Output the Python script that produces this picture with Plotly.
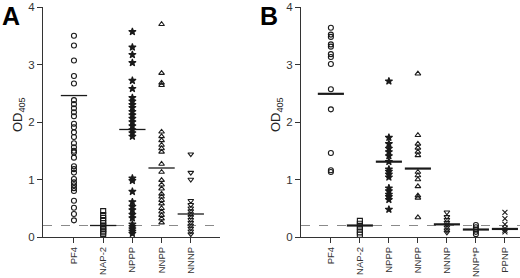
import plotly.graph_objects as go

# ---------------- data ----------------
cats_a = ["PF4", "NAP-2", "NPPP", "NNPP", "NNNP"]
cats_b = ["PF4", "NAP-2", "NPPP", "NNPP", "NNNP", "NNP*P", "PPNP"]

a_pf4 = [3.50, 3.33, 3.07, 2.80, 2.67, 2.38, 2.31, 2.24, 2.17, 2.10, 1.97, 1.91, 1.82,
         1.74, 1.63, 1.56, 1.50, 1.47, 1.38, 1.23, 1.18, 1.12, 1.01, 0.95, 0.90, 0.85,
         0.80, 0.63, 0.51, 0.40, 0.29]
a_nap2 = [0.45, 0.38, 0.33, 0.28, 0.24, 0.20, 0.17, 0.14, 0.11, 0.08, 0.05]
a_nppp = [3.57, 3.30, 3.17, 3.03, 2.72, 2.58, 2.42, 2.36, 2.30, 2.25, 2.18, 2.12, 2.06,
          2.00, 1.93, 1.86, 1.81, 1.75, 1.02, 0.98, 0.79, 0.61, 0.53, 0.47, 0.39, 0.33,
          0.22, 0.18, 0.14, 0.10, 0.06]
a_nnpp = [3.70, 2.85, 2.68, 2.64, 1.83, 1.75, 1.68, 1.60, 1.54, 1.48, 1.27, 1.13, 0.99,
          0.91, 0.84, 0.75, 0.70, 0.64, 0.58, 0.50, 0.44, 0.38, 0.32, 0.25]
a_nnnp = [1.44, 1.12, 1.00, 0.63, 0.56, 0.50, 0.45, 0.40, 0.35, 0.30, 0.25, 0.20, 0.15,
          0.10, 0.05]
a_means = [2.46, 0.20, 1.87, 1.20, 0.40]

b_pf4 = [3.64, 3.52, 3.48, 3.35, 3.31, 3.18, 3.13, 3.01, 2.57, 2.22, 1.46, 1.16, 1.13]
b_nap2 = [0.28, 0.23, 0.18, 0.13, 0.08, 0.04]
b_nppp = [2.71, 1.73, 1.62, 1.54, 1.48, 1.41, 1.31, 1.18, 1.14, 1.09, 1.04, 0.85, 0.80,
          0.74, 0.70, 0.65, 0.48]
b_nnpp = [2.84, 1.77, 1.62, 1.55, 1.48, 1.42, 1.13, 1.07, 1.00, 0.88, 0.72, 0.68, 0.34]
b_nnnp = [0.43, 0.35, 0.30, 0.25, 0.21, 0.17, 0.12, 0.08]
b_nnpsp = [0.21, 0.17, 0.13, 0.09, 0.05]
b_ppnp = [0.43, 0.32, 0.22, 0.15, 0.12, 0.09]
b_means = [2.49, 0.20, 1.31, 1.19, 0.22, 0.13, 0.14]

cutoff = 0.2
y_ticks = [0, 1, 2, 3, 4]

# ---------------- styling ----------------
symbols = {"PF4": "circle-open", "NAP-2": "square-open", "NPPP": "star",
           "NNPP": "triangle-up-open", "NNNP": "triangle-down-open",
           "NNP*P": "circle-open", "PPNP": "x-thin-open"}
sizes = {"PF4": 5, "NAP-2": 5, "NPPP": 5.5, "NNPP": 5, "NNNP": 5, "NNP*P": 5, "PPNP": 5}
ink = "#1a1a1a"
FONT = "Liberation Sans, Arial, sans-serif"

fig = go.Figure()

def add_panel(cats, series, means, xa, ya, mean_w):
    for i, (c, vals) in enumerate(zip(cats, series)):
        fig.add_trace(go.Scatter(
            x=[i] * len(vals), y=vals, mode="markers", xaxis=xa, yaxis=ya,
            marker=dict(symbol=symbols[c], size=sizes[c], color=ink,
                        line=dict(color=ink, width=1.1)),
            cliponaxis=False, showlegend=False, hoverinfo="y"))
    mx, my = [], []
    for i, m in enumerate(means):
        mx += [i - 0.45, i + 0.45, None]
        my += [m, m, None]
    fig.add_trace(go.Scatter(x=mx, y=my, mode="lines", xaxis=xa, yaxis=ya,
                             line=dict(color=ink, width=mean_w),
                             showlegend=False, hoverinfo="skip", cliponaxis=False))

add_panel(cats_a, [a_pf4, a_nap2, a_nppp, a_nnpp, a_nnnp], a_means, "x", "y", 1.3)
add_panel(cats_b, [b_pf4, b_nap2, b_nppp, b_nnpp, b_nnnp, b_nnpsp, b_ppnp], b_means,
          "x2", "y2", 2.2)

for xr, yr in (("x", "y"), ("x2", "y2")):
    fig.add_shape(type="line", xref=xr + " domain", yref=yr, x0=0, x1=1,
                  y0=cutoff, y1=cutoff, line=dict(color="#8a8a8a", width=1.2, dash="dash"),
                  layer="below")

axis_common = dict(showgrid=False, zeroline=False, showline=True, linecolor="#333",
                   linewidth=1.2, ticks="outside", ticklen=5, tickcolor="#333",
                   automargin=False, ticklabeloverflow="allow")

fig.update_layout(
    width=520, height=278, margin=dict(l=0, r=0, t=7, b=41),
    paper_bgcolor="white", plot_bgcolor="white",
    xaxis=dict(domain=[43 / 520, 220 / 520], range=[-1.06, 5.0], tickmode="array",
               tickvals=list(range(len(cats_a))), ticktext=cats_a, tickangle=-90,
               **axis_common),
    yaxis=dict(range=[0, 4.0], tickvals=y_ticks, anchor="x", **axis_common),
    xaxis2=dict(domain=[301 / 520, 1.0], range=[-1.03, 6.52], tickmode="array",
                tickvals=list(range(len(cats_b))), ticktext=cats_b, tickangle=-90,
                anchor="y2", **axis_common),
    yaxis2=dict(range=[0, 4.0], tickvals=y_ticks, anchor="x2", **axis_common),
)
fig.update_xaxes(tickfont=dict(family=FONT, size=9.5, color="#333"))
fig.update_yaxes(tickfont=dict(family=FONT, size=11.5, color="#333"))

for xp, lab, tx in ((18 / 520, "A", 0), (276 / 520, "B", 258 / 520)):
    fig.add_annotation(x=xp, y=0.53, xref="paper", yref="paper", text="OD<sub>405</sub>",
                       textangle=-90, showarrow=False, xanchor="center", yanchor="middle",
                       font=dict(family=FONT, size=13, color="#222"))
    fig.add_annotation(x=tx, y=1.0, xref="paper", yref="paper", text="<b>%s</b>" % lab,
                       xanchor="left", yanchor="top", yshift=7, showarrow=False,
                       font=dict(family=FONT, size=25, color="black"))

fig.write_html("out.html", config={"displayModeBar": False},
               post_script="document.body.style.margin='0';document.body.style.padding='0';")
